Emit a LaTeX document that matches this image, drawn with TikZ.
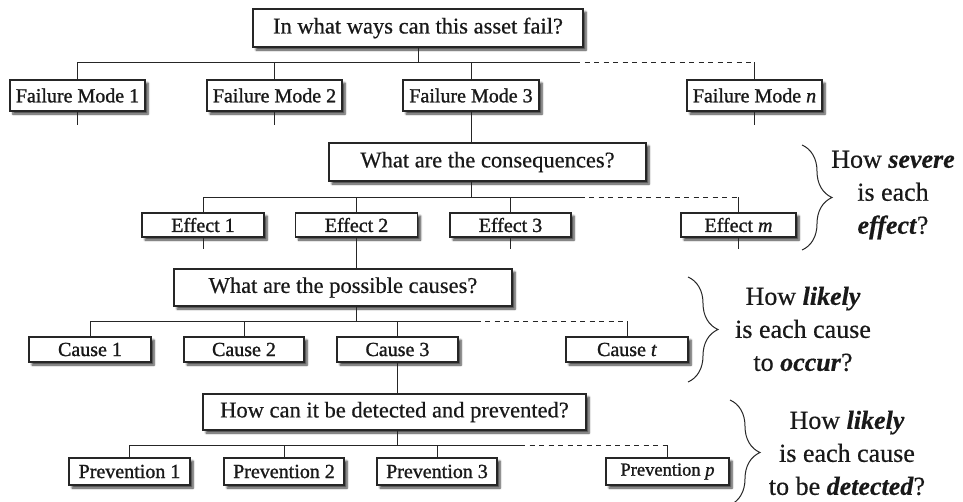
\documentclass[tikz,border=0pt]{standalone}
\usepackage{fontspec}
\setmainfont{Liberation Serif}
\newfontfamily\labelfont{Liberation Serif}[FakeBold=1.2]
\newfontfamily\askfont{Liberation Serif}[FakeBold=0.5]
\usetikzlibrary{decorations.pathreplacing,shadows.blur}

\begin{document}
\begin{tikzpicture}[x=1pt,y=-1pt,
  box/.style={draw=black!85, line width=1.1pt, fill=white, inner sep=0pt,
    text=black!90,
    blur shadow={shadow xshift=3pt, shadow yshift=-3pt,
      shadow blur radius=2pt, shadow blur steps=6, shadow opacity=75}},
  question/.style={box, font=\askfont\fontsize{22.5}{27}\selectfont},
  item/.style={box, font=\labelfont\fontsize{20}{24}\selectfont},
  conn/.style={draw=black!85, line width=0.9pt},
  more/.style={conn, dash pattern=on 5pt off 4.5pt},
  curly/.style={draw=black!85, line width=1pt, decorate,
    decoration={brace, amplitude=30pt}},
  note/.style={align=center, text=black!90, font=\askfont\fontsize{26}{33}\selectfont}]

\useasboundingbox (0,0) rectangle (963,501);

% ---------- level 1: failure modes ----------
\node[question, minimum width=330pt, minimum height=38pt] (q1) at (418,28)
  {In what ways can this asset fail?};
\node[item, minimum width=135pt, minimum height=31pt] (fm1) at (77.5,95.5) {Failure Mode 1};
\node[item, minimum width=135pt, minimum height=31pt] (fm2) at (274.5,95.5) {Failure Mode 2};
\node[item, minimum width=136pt, minimum height=31pt] (fm3) at (471,95.5) {Failure Mode 3};
\node[item, minimum width=135pt, minimum height=31pt] (fmn) at (754.5,95.5) {Failure Mode \textit{n}};
\coordinate (b1) at (0,62);

% ---------- level 2: effects ----------
\node[question, minimum width=317pt, minimum height=38pt] (q2) at (487.5,162)
  {What are the consequences?};
\node[item, minimum width=122pt, minimum height=24pt] (e1) at (203,225) {Effect 1};
\node[item, minimum width=122pt, minimum height=24pt] (e2) at (356.5,225) {Effect 2};
\node[item, minimum width=121pt, minimum height=24pt] (e3) at (510.5,225) {Effect 3};
\node[item, minimum width=115pt, minimum height=24pt] (em) at (738.5,225) {Effect \textit{m}};
\coordinate (b2) at (0,197);

% ---------- level 3: causes ----------
\node[question, minimum width=338pt, minimum height=37pt] (q3) at (343,287.5)
  {What are the possible causes?};
\node[item, minimum width=122pt, minimum height=25pt] (c1) at (90,349.5) {Cause 1};
\node[item, minimum width=120pt, minimum height=25pt] (c2) at (244,349.5) {Cause 2};
\node[item, minimum width=121pt, minimum height=25pt] (c3) at (397.5,349.5) {Cause 3};
\node[item, minimum width=122pt, minimum height=25pt] (ct) at (627,349.5) {Cause \textit{t}};
\coordinate (b3) at (0,321);

% ---------- level 4: detection / prevention ----------
\node[question, minimum width=383pt, minimum height=36pt] (q4) at (394.5,412)
  {How can it be detected and prevented?};
\node[item, minimum width=121pt, minimum height=27pt] (p1) at (129.5,471.5) {Prevention 1};
\node[item, minimum width=120pt, minimum height=27pt] (p2) at (284,471.5) {Prevention 2};
\node[item, minimum width=120pt, minimum height=27pt] (p3) at (437,471.5) {Prevention 3};
\node[item, minimum width=123pt, minimum height=27pt, font=\labelfont\fontsize{18.5}{22}\selectfont]
  (pp) at (667.5,471.5) {Prevention \textit{p}};
\coordinate (b4) at (0,445);

% ---------- connectors, level 1 ----------
\draw[conn] (q1.south) -- (q1.south |- b1);
\draw[conn] (fm1.north |- b1) -- ([xshift=104pt]fm3.north |- b1) coordinate (d1);
\draw[more] (d1) -- (fmn.north |- b1);
\foreach \n in {fm1,fm2,fm3,fmn} \draw[conn] (\n.north |- b1) -- (\n.north);
\foreach \n in {fm1,fm2,fmn} \draw[conn] (\n.south) -- ++(0,13);
\draw[conn] (fm3.south) -- (fm3.south |- q2.north);

% ---------- connectors, level 2 ----------
\draw[conn] (fm3.south |- q2.south) -- (fm3.south |- b2);
\draw[conn] (e1.north |- b2) -- ([xshift=69pt]e3.north |- b2) coordinate (d2);
\draw[more] (d2) -- (em.north |- b2);
\foreach \n in {e1,e2,e3,em} \draw[conn] (\n.north |- b2) -- (\n.north);
\foreach \n in {e1,e3,em} \draw[conn] (\n.south) -- ++(0,11);
\draw[conn] (e2.south) -- (e2.south |- q3.north);

% ---------- connectors, level 3 ----------
\draw[conn] (e2.south |- q3.south) -- (e2.south |- b3);
\draw[conn] (c1.north |- b3) -- ([xshift=78pt]c3.north |- b3) coordinate (d3);
\draw[more] (d3) -- (ct.north |- b3);
\foreach \n in {c1,c2,c3,ct} \draw[conn] (\n.north |- b3) -- (\n.north);
\draw[conn] (c3.south) -- (c3.south |- q4.north);

% ---------- connectors, level 4 ----------
\draw[conn] (c3.south |- q4.south) -- (c3.south |- b4);
\draw[conn] (p1.north |- b4) -- ([xshift=83pt]p3.north |- b4) coordinate (d4);
\draw[more] (d4) -- (pp.north |- b4);
\foreach \n in {p1,p2,p3,pp} \draw[conn] (\n.north |- b4) -- (\n.north);

% ---------- rating questions ----------
\coordinate (k1a) at (802,145);  \coordinate (k1b) at (802,250);
\coordinate (k2a) at (688,277);  \coordinate (k2b) at (688,382);
\coordinate (k3a) at (730,400);  \coordinate (k3b) at (730,505);
\draw[curly] (k1a) -- (k1b);
\draw[curly] (k2a) -- (k2b);
\draw[curly] (k3a) -- (k3b);

\node[note] (s1) at (893,195)
  {How \textbf{\textit{severe}}\\ is each\\ \textbf{\textit{effect}}?};
\node[note] (s2) at (803,329)
  {How \textbf{\textit{likely}}\\ is each cause\\ to \textbf{\textit{occur}}?};
\node[note] (s3) at (847,453)
  {How \textbf{\textit{likely}}\\ is each cause\\ to be \textbf{\textit{detected}}?};
\end{tikzpicture}
\end{document}
